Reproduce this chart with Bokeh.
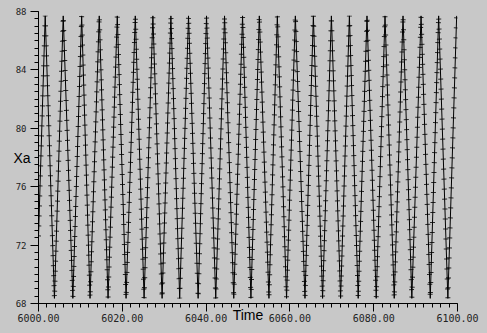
from bokeh.plotting import figure
from bokeh.models import Range1d, SingleIntervalTicker, PrintfTickFormatter
from bokeh.embed import file_html
from bokeh.resources import INLINE

# ---- data ----
start_time = [6000.0]
start_value = [72.6]
peak_times = [6001.6, 6005.9, 6010.3, 6014.5, 6018.8, 6023.1, 6027.3, 6031.6,
              6035.8, 6040.1, 6044.4, 6048.7, 6052.7, 6057.0, 6061.3, 6065.6,
              6069.9, 6074.2, 6078.4, 6082.7, 6087.0, 6091.3, 6095.5, 6099.8]
peak_values = [87.7, 87.7, 87.7, 87.7, 87.7, 87.7, 87.7, 87.7,
               87.7, 87.7, 87.7, 87.7, 87.7, 87.7, 87.7, 87.7,
               87.7, 87.7, 87.7, 87.7, 87.7, 87.7, 87.7, 87.7]
trough_times = [6003.8, 6008.2, 6012.3, 6016.6, 6020.9, 6025.2, 6029.5, 6033.7,
                6038.1, 6042.3, 6046.6, 6050.7, 6055.0, 6059.2, 6063.6, 6067.8,
                6072.1, 6076.3, 6080.6, 6084.9, 6089.1, 6093.5, 6097.7]
trough_values = [68.35, 68.35, 68.35, 68.35, 68.35, 68.35, 68.35, 68.35,
                 68.35, 68.35, 68.35, 68.35, 68.35, 68.35, 68.35, 68.35,
                 68.35, 68.35, 68.35, 68.35, 68.35, 68.35, 68.35]
x_label = "Time"
y_label = "Xa"

# ---- build series ----
times = list(start_time)
values = list(start_value)
for i in range(len(peak_times)):
    times.append(peak_times[i])
    values.append(peak_values[i])
    if i < len(trough_times):
        times.append(trough_times[i])
        values.append(trough_values[i])

BG = "#c8c8c8"

p = figure(width=480, height=330, output_backend="svg", toolbar_location=None,
           x_range=Range1d(6000, 6100), y_range=Range1d(68, 88),
           min_border_left=38, min_border_right=23, min_border_top=11,
           min_border_bottom=27,
           background_fill_color=BG, border_fill_color=BG,
           outline_line_color=None)
p.xgrid.visible = False
p.ygrid.visible = False

# line
p.line(times, values, line_color="black", line_width=1)
# '+' marker look: thick dashed overlay makes short cross bars
p.line(times, values, line_color="black", line_width=5, line_dash="1 9", line_alpha=0.8)

# axes
xa = p.xaxis[0]
xa.ticker = SingleIntervalTicker(interval=20, num_minor_ticks=10)
xa.formatter = PrintfTickFormatter(format="%.2f")
ya = p.yaxis[0]
ya.ticker = SingleIntervalTicker(interval=4, num_minor_ticks=8)
for ax in (xa, ya):
    ax.axis_line_color = "black"
    ax.major_tick_line_color = "black"
    ax.minor_tick_line_color = "black"
    ax.major_tick_in = 0
    ax.minor_tick_in = 0
    ax.major_tick_out = 8
    ax.minor_tick_out = 4
    ax.major_label_text_font = "DejaVu Sans Mono"
    ax.major_label_text_color = "#222222"
    ax.axis_label_text_font = "Liberation Sans"
    ax.axis_label_text_font_size = "14px"
    ax.axis_label_text_font_style = "normal"
    ax.axis_label_text_color = "black"
xa.major_label_text_font_size = "10px"
ya.major_label_text_font_size = "9px"
xa.major_label_standoff = 2
ya.major_label_standoff = 4

xa.axis_label = x_label
xa.axis_label_standoff = -18
ya.axis_label = y_label
ya.axis_label_orientation = "horizontal"
ya.axis_label_standoff = -18

template = """{% block preamble %}<style>html, body { background: #c8c8c8 !important; }</style>{% endblock %}"""
open("out.html", "w").write(file_html(p, INLINE, template=template))
